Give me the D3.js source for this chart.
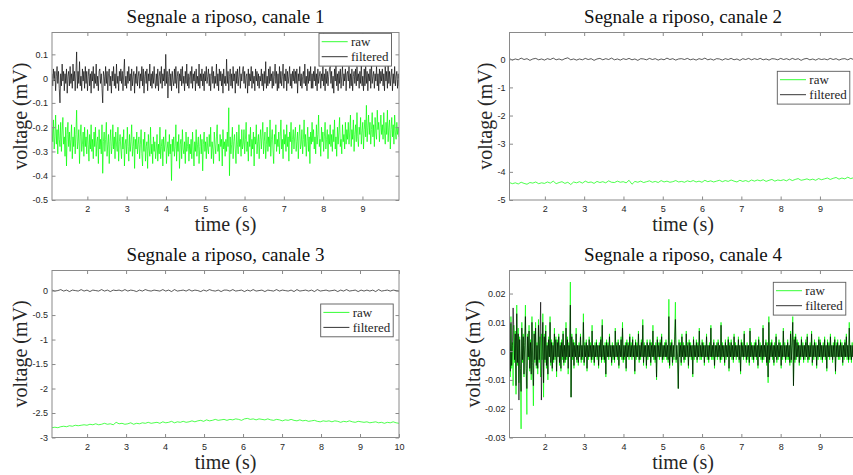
<!DOCTYPE html>
<html>
<head>
<meta charset="utf-8">
<script src="https://cdn.jsdelivr.net/npm/d3@7"></script>
<style>
  html, body { margin: 0; padding: 0; background: #fff; }
  svg { display: block; }
  .serif { font-family: "Liberation Serif", "DejaVu Serif", "Noto Serif", "Times New Roman", Times, serif; }
  .sans { font-family: "Liberation Sans", Arial, Helvetica, sans-serif; }
</style>
</head>
<body>
<svg id="chart" width="853" height="475"></svg>
<script>
// ---- Recorded resting signals (mV), evenly sampled over each time span (s) ----

const ch1Span = [1.1, 9.93];
const ch1Raw = [
  -0.20,-0.26,-0.17,-0.29,-0.24,-0.15,-0.27,-0.21,-0.31,-0.19,-0.25,-0.28,-0.18,-0.30,-0.22,-0.16,-0.27,-0.24,-0.32,-0.20,-0.36,-0.23,-0.18,-0.28,
  -0.22,-0.30,-0.25,-0.19,-0.33,-0.24,-0.28,-0.20,-0.31,-0.23,-0.13,-0.29,-0.26,-0.21,-0.35,-0.24,-0.19,-0.30,-0.27,-0.22,-0.32,-0.20,-0.28,-0.24,
  -0.31,-0.21,-0.27,-0.34,-0.23,-0.29,-0.19,-0.30,-0.25,-0.33,-0.22,-0.28,-0.20,-0.32,-0.26,-0.24,-0.35,-0.21,-0.29,-0.25,-0.31,-0.19,-0.39,-0.26,
  -0.22,-0.30,-0.25,-0.18,-0.32,-0.27,-0.23,-0.35,-0.26,-0.21,-0.31,-0.28,-0.19,-0.29,-0.24,-0.33,-0.22,-0.27,-0.30,-0.20,-0.34,-0.26,-0.23,-0.29,
  -0.33,-0.24,-0.29,-0.21,-0.36,-0.27,-0.25,-0.31,-0.20,-0.28,-0.34,-0.23,-0.30,-0.26,-0.19,-0.32,-0.28,-0.24,-0.37,-0.25,-0.29,-0.22,-0.31,-0.27,
  -0.24,-0.33,-0.27,-0.21,-0.31,-0.36,-0.25,-0.30,-0.22,-0.34,-0.28,-0.26,-0.37,-0.23,-0.29,-0.32,-0.20,-0.31,-0.27,-0.35,-0.24,-0.30,-0.26,-0.33,
  -0.29,-0.23,-0.34,-0.27,-0.31,-0.20,-0.33,-0.28,-0.25,-0.36,-0.24,-0.30,-0.27,-0.21,-0.35,-0.29,-0.26,-0.32,-0.23,-0.31,-0.27,-0.42,-0.25,-0.30,
  -0.24,-0.32,-0.28,-0.19,-0.34,-0.26,-0.30,-0.23,-0.37,-0.27,-0.25,-0.33,-0.21,-0.29,-0.31,-0.26,-0.35,-0.22,-0.30,-0.28,-0.24,-0.34,-0.27,-0.31,
  -0.25,-0.33,-0.22,-0.29,-0.36,-0.26,-0.30,-0.21,-0.32,-0.27,-0.24,-0.35,-0.28,-0.23,-0.31,-0.25,-0.38,-0.27,-0.22,-0.30,-0.26,-0.33,-0.24,-0.29,
  -0.31,-0.23,-0.28,-0.20,-0.33,-0.26,-0.29,-0.35,-0.22,-0.27,-0.31,-0.24,-0.19,-0.30,-0.27,-0.34,-0.23,-0.28,-0.25,-0.36,-0.21,-0.29,-0.26,-0.32,
  -0.25,-0.30,-0.22,-0.28,-0.12,-0.40,-0.24,-0.31,-0.27,-0.20,-0.33,-0.26,-0.23,-0.29,-0.35,-0.22,-0.27,-0.31,-0.19,-0.28,-0.25,-0.32,-0.21,-0.29,
  -0.27,-0.21,-0.31,-0.25,-0.18,-0.30,-0.26,-0.34,-0.23,-0.28,-0.20,-0.32,-0.25,-0.29,-0.22,-0.36,-0.24,-0.27,-0.19,-0.31,-0.26,-0.23,-0.33,-0.25,
  -0.21,-0.29,-0.24,-0.18,-0.31,-0.26,-0.22,-0.33,-0.27,-0.20,-0.30,-0.24,-0.28,-0.17,-0.32,-0.25,-0.21,-0.29,-0.35,-0.23,-0.27,-0.19,-0.30,-0.25,
  -0.28,-0.22,-0.31,-0.24,-0.17,-0.29,-0.25,-0.33,-0.21,-0.27,-0.23,-0.30,-0.19,-0.28,-0.24,-0.34,-0.22,-0.26,-0.18,-0.31,-0.25,-0.21,-0.29,-0.24,
  -0.20,-0.30,-0.26,-0.22,-0.33,-0.24,-0.19,-0.29,-0.27,-0.21,-0.31,-0.25,-0.17,-0.28,-0.23,-0.32,-0.26,-0.20,-0.30,-0.24,-0.35,-0.22,-0.27,-0.18,
  -0.26,-0.21,-0.29,-0.24,-0.31,-0.19,-0.27,-0.23,-0.15,-0.28,-0.25,-0.32,-0.20,-0.26,-0.22,-0.30,-0.24,-0.18,-0.29,-0.25,-0.21,-0.33,-0.23,-0.27,
  -0.19,-0.28,-0.23,-0.30,-0.21,-0.26,-0.17,-0.29,-0.24,-0.32,-0.20,-0.27,-0.22,-0.16,-0.28,-0.25,-0.31,-0.19,-0.26,-0.23,-0.29,-0.18,-0.27,-0.21,
  -0.25,-0.18,-0.27,-0.22,-0.15,-0.28,-0.21,-0.25,-0.17,-0.30,-0.23,-0.19,-0.26,-0.14,-0.24,-0.28,-0.20,-0.23,-0.16,-0.27,-0.22,-0.18,-0.29,-0.21,
  -0.17,-0.24,-0.11,-0.26,-0.20,-0.15,-0.23,-0.18,-0.27,-0.21,-0.14,-0.24,-0.19,-0.28,-0.16,-0.22,-0.25,-0.13,-0.21,-0.18,-0.26,-0.20,-0.15,-0.23,
  -0.19,-0.25,-0.14,-0.22,-0.27,-0.18,-0.23,-0.13,-0.26,-0.20,-0.17,-0.29,-0.21,-0.16,-0.24,-0.19,-0.27,-0.15,-0.22,-0.25,-0.18,-0.23,-0.20,-0.24
];
const ch1Filtered = [
  0.02,-0.03,0.04,-0.01,0.03,-0.05,0.01,0.05,-0.02,0.03,-0.04,-0.10,0.02,-0.03,0.06,-0.01,0.03,-0.05,0.02,-0.02,0.04,-0.06,0.01,0.03,
  -0.03,0.05,-0.02,0.02,-0.04,0.06,-0.01,0.03,-0.05,0.02,0.11,-0.04,0.03,-0.02,0.07,-0.03,0.01,-0.05,0.04,-0.01,0.03,-0.04,0.05,-0.02,
  0.03,-0.05,0.01,0.04,-0.03,0.02,-0.06,0.03,-0.01,0.05,-0.04,0.02,-0.02,0.06,-0.03,0.01,-0.05,0.03,0.04,-0.02,0.02,-0.04,-0.10,0.03,
  0.01,-0.03,0.05,-0.02,0.03,-0.05,0.02,0.04,-0.03,0.01,-0.06,0.03,-0.01,0.05,-0.03,0.02,-0.04,0.06,-0.02,0.01,-0.05,0.03,-0.01,0.04,
  -0.02,0.03,-0.05,0.02,0.08,-0.03,0.01,-0.04,0.03,-0.02,0.05,-0.01,0.02,-0.05,0.04,-0.03,0.01,0.03,-0.06,0.02,-0.02,0.05,-0.03,0.01,
  0.03,-0.04,0.02,-0.01,0.05,-0.03,0.04,-0.06,0.01,0.03,-0.02,0.04,-0.05,0.02,-0.01,0.06,-0.03,0.02,-0.04,0.03,-0.02,0.05,-0.01,-0.04,
  0.02,-0.03,0.04,-0.05,0.01,0.03,-0.02,0.05,-0.04,0.02,-0.01,0.04,-0.03,0.10,-0.02,0.03,-0.08,0.01,0.04,-0.03,0.02,-0.05,0.03,-0.01,
  -0.03,0.04,-0.02,0.05,-0.04,0.01,0.03,-0.06,0.02,-0.01,0.04,-0.03,0.05,-0.02,0.01,-0.05,0.03,-0.02,0.06,-0.03,0.02,-0.04,0.01,0.03,
  -0.02,0.05,-0.04,0.02,-0.01,0.03,-0.05,0.04,-0.02,0.01,-0.03,0.06,-0.04,0.02,-0.01,0.04,-0.03,0.02,-0.05,0.03,-0.01,0.05,-0.02,0.01,
  0.04,-0.03,0.02,-0.05,0.01,0.05,-0.02,0.03,-0.04,0.01,-0.02,0.06,-0.03,0.02,-0.05,0.04,-0.01,0.03,-0.03,0.02,-0.06,0.04,-0.02,0.01,
  -0.03,0.08,-0.02,0.03,-0.05,0.01,0.04,-0.03,0.02,-0.04,0.05,-0.01,0.02,-0.06,0.03,-0.02,0.04,-0.03,0.01,0.05,-0.04,0.02,-0.01,0.03,
  0.05,-0.02,0.03,-0.04,0.01,0.02,-0.06,0.04,-0.03,0.02,-0.01,0.05,-0.04,0.03,-0.02,0.01,-0.05,0.04,-0.01,0.03,-0.03,0.02,-0.04,0.01,
  -0.01,0.04,-0.03,0.02,-0.05,0.03,-0.02,0.07,-0.04,0.01,-0.03,0.04,-0.02,0.05,-0.01,0.02,-0.04,0.03,-0.03,0.01,0.06,-0.02,0.03,-0.05,
  0.02,-0.04,0.05,-0.02,0.03,-0.03,0.01,0.06,-0.04,0.02,-0.01,0.04,-0.05,0.03,-0.02,0.01,0.05,-0.03,0.02,-0.04,0.03,-0.01,0.04,-0.02,
  0.03,-0.02,0.04,-0.06,0.02,-0.01,0.05,-0.03,0.02,-0.04,0.01,0.03,-0.02,0.06,-0.03,0.01,-0.05,0.04,-0.02,0.03,-0.01,0.05,-0.04,0.02,
  -0.04,0.03,-0.01,0.05,-0.03,0.02,-0.05,0.04,-0.02,0.01,0.03,-0.04,0.02,-0.01,0.05,-0.03,0.02,-0.05,0.04,-0.02,0.03,-0.03,0.01,0.04,
  0.05,-0.02,0.03,-0.04,0.01,-0.06,0.04,-0.01,0.06,-0.03,0.02,-0.05,0.03,-0.02,0.04,-0.04,0.01,0.05,-0.03,0.02,-0.01,0.04,-0.05,0.02,
  0.03,-0.01,0.05,-0.04,0.02,-0.03,0.04,-0.05,0.01,0.03,-0.02,0.04,-0.03,0.05,-0.01,0.02,-0.04,0.03,-0.02,0.06,-0.03,0.01,-0.05,0.04,
  -0.03,0.05,-0.02,0.03,-0.05,0.02,-0.01,0.04,-0.04,0.06,-0.02,0.01,0.03,-0.04,0.02,-0.01,0.05,-0.03,0.02,-0.05,0.04,-0.02,0.03,-0.01,
  0.04,-0.03,0.02,-0.05,0.05,-0.01,0.03,-0.04,0.06,-0.02,0.03,-0.03,0.01,0.04,-0.05,0.02,-0.02,0.05,-0.03,0.01,0.03,-0.04,0.02,-0.03
];

const ch2Span = [1.1, 9.93];
const ch2Raw = [
  -4.38,-4.42,-4.39,-4.43,-4.37,-4.41,-4.44,-4.38,-4.40,-4.36,-4.42,-4.39,
  -4.41,-4.36,-4.40,-4.33,-4.42,-4.38,-4.35,-4.41,-4.37,-4.45,-4.36,-4.39,
  -4.35,-4.40,-4.33,-4.38,-4.36,-4.41,-4.34,-4.38,-4.35,-4.39,-4.32,-4.37,
  -4.38,-4.33,-4.37,-4.35,-4.39,-4.30,-4.44,-4.34,-4.37,-4.33,-4.38,-4.35,
  -4.32,-4.37,-4.34,-4.38,-4.31,-4.36,-4.33,-4.37,-4.35,-4.31,-4.36,-4.34,
  -4.37,-4.32,-4.35,-4.31,-4.36,-4.33,-4.37,-4.30,-4.35,-4.32,-4.36,-4.33,
  -4.30,-4.35,-4.31,-4.34,-4.29,-4.33,-4.36,-4.30,-4.34,-4.31,-4.35,-4.29,
  -4.33,-4.29,-4.32,-4.28,-4.34,-4.30,-4.27,-4.33,-4.29,-4.31,-4.28,-4.32,
  -4.26,-4.31,-4.27,-4.24,-4.30,-4.28,-4.25,-4.29,-4.26,-4.30,-4.24,-4.28,
  -4.25,-4.22,-4.27,-4.23,-4.20,-4.26,-4.22,-4.25,-4.19,-4.24,-4.21,-4.23
];
const ch2Filtered = [
  0.02,-0.03,0.01,-0.02,0.04,-0.01,0.02,-0.04,0.01,0.03,-0.02,0.01,
  -0.03,0.02,-0.01,0.04,-0.02,0.01,-0.03,0.02,0.05,-0.02,0.01,-0.03,
  0.01,-0.02,0.03,-0.01,0.02,-0.04,0.01,0.03,-0.02,0.02,-0.01,0.04,
  -0.02,0.01,-0.03,0.02,-0.01,0.03,-0.02,0.01,-0.04,0.02,0.01,-0.02,
  0.03,-0.01,0.02,-0.03,0.01,-0.02,0.04,-0.01,0.02,-0.03,0.01,0.02,
  -0.01,0.03,-0.02,0.01,-0.03,0.02,-0.01,0.04,-0.02,0.01,-0.03,0.02,
  0.01,-0.03,0.02,-0.01,0.03,-0.02,0.01,-0.04,0.02,-0.01,0.03,-0.02,
  0.02,-0.01,0.03,-0.02,0.01,-0.03,0.02,0.01,-0.02,0.03,-0.01,0.02,
  -0.02,0.03,-0.01,0.02,-0.04,0.01,0.03,-0.02,0.01,-0.03,0.02,-0.01,
  0.01,-0.02,0.03,-0.01,0.02,-0.03,0.01,0.02,-0.02,0.03,-0.01,0.01
];

const ch3Span = [1.1, 10];
const ch3Raw = [
  -2.80,-2.79,-2.80,-2.78,-2.77,-2.78,-2.76,-2.77,-2.75,-2.76,-2.75,-2.74,
  -2.75,-2.73,-2.74,-2.72,-2.74,-2.73,-2.71,-2.73,-2.72,-2.74,-2.69,-2.72,
  -2.71,-2.73,-2.72,-2.70,-2.73,-2.71,-2.72,-2.70,-2.71,-2.69,-2.71,-2.70,
  -2.69,-2.71,-2.68,-2.70,-2.69,-2.67,-2.70,-2.68,-2.69,-2.67,-2.69,-2.68,
  -2.66,-2.68,-2.66,-2.65,-2.67,-2.64,-2.66,-2.65,-2.63,-2.65,-2.64,-2.63,
  -2.65,-2.63,-2.64,-2.62,-2.63,-2.65,-2.62,-2.61,-2.63,-2.62,-2.64,-2.62,
  -2.63,-2.64,-2.62,-2.64,-2.65,-2.63,-2.64,-2.66,-2.64,-2.65,-2.63,-2.65,
  -2.66,-2.64,-2.66,-2.65,-2.67,-2.66,-2.65,-2.67,-2.68,-2.66,-2.67,-2.66,
  -2.68,-2.66,-2.67,-2.69,-2.67,-2.68,-2.66,-2.68,-2.69,-2.67,-2.68,-2.69,
  -2.68,-2.70,-2.69,-2.68,-2.70,-2.69,-2.71,-2.69,-2.70,-2.68,-2.70,-2.71
];
const ch3Filtered = [
  0.01,-0.01,0.00,0.02,-0.01,0.01,-0.02,0.01,0.00,-0.01,0.02,-0.01,
  0.01,-0.02,0.01,0.00,-0.01,0.02,-0.01,0.01,-0.02,0.01,0.00,0.01,
  -0.01,0.02,-0.01,0.01,0.00,-0.02,0.01,-0.01,0.02,0.00,-0.01,0.01,
  0.00,-0.01,0.02,-0.01,0.01,-0.02,0.02,-0.01,0.00,0.01,-0.01,0.02,
  -0.01,0.01,0.00,-0.02,0.01,-0.01,0.02,0.00,-0.01,0.01,-0.02,0.01,
  0.01,-0.01,0.02,-0.01,0.00,0.01,-0.02,0.01,-0.01,0.02,-0.01,0.00,
  0.01,-0.02,0.01,0.00,-0.01,0.02,-0.01,0.01,0.00,-0.01,0.01,-0.02,
  0.02,-0.01,0.00,0.01,-0.01,0.01,-0.02,0.02,-0.01,0.00,0.01,-0.01,
  0.00,0.01,-0.02,0.01,-0.01,0.02,-0.01,0.00,0.01,-0.02,0.01,-0.01,
  0.01,-0.01,0.01,-0.02,0.02,-0.01,0.00,0.01,-0.01,0.01,0.00,-0.01
];

const ch4Span = [1.1, 9.93];
const ch4Raw = [
  0.004,-0.009,0.012,-0.006,0.003,-0.012,0.009,-0.004,0.007,-0.015,0.016,-0.005,0.008,-0.011,0.005,-0.007,-0.027,0.010,-0.004,0.006,-0.009,0.003,0.016,-0.008,
  -0.022,0.006,-0.003,0.009,-0.007,0.004,-0.010,0.012,-0.005,-0.019,0.007,-0.004,0.010,-0.006,0.003,-0.008,0.011,-0.004,0.005,-0.009,0.006,-0.003,0.013,-0.016,
  0.006,-0.004,0.009,-0.006,0.003,-0.010,0.005,-0.002,0.012,-0.005,0.004,-0.007,0.003,-0.004,0.008,-0.003,0.005,-0.009,0.004,-0.002,0.006,-0.005,0.003,-0.007,
  0.004,-0.003,0.007,-0.005,0.002,-0.004,0.010,-0.003,0.005,-0.008,0.003,-0.002,0.024,-0.016,0.006,-0.003,0.004,-0.006,0.003,-0.002,0.008,-0.004,0.002,-0.005,
  0.003,-0.002,0.006,-0.004,0.002,-0.003,0.013,-0.005,0.003,-0.002,0.004,-0.007,0.002,-0.003,0.005,-0.002,0.003,-0.004,0.009,-0.003,0.002,-0.005,0.003,-0.002,
  0.004,-0.003,0.002,-0.006,0.003,-0.002,0.005,-0.004,0.011,-0.003,0.002,-0.004,0.003,-0.009,0.004,-0.002,0.003,-0.003,0.006,-0.002,0.002,-0.005,0.003,-0.003,
  0.002,-0.004,0.008,-0.002,0.003,-0.003,0.004,-0.006,0.002,-0.002,0.005,-0.003,0.010,-0.004,0.002,-0.003,0.003,-0.007,0.004,-0.002,0.003,-0.003,0.006,-0.002,
  0.003,-0.003,0.005,-0.002,0.002,-0.008,0.004,-0.003,0.003,-0.002,0.007,-0.004,0.002,-0.003,0.004,-0.002,0.011,-0.005,0.003,-0.002,0.002,-0.006,0.004,-0.003,
  0.002,-0.002,0.004,-0.005,0.003,-0.002,0.009,-0.003,0.002,-0.004,0.003,-0.010,0.005,-0.002,0.003,-0.003,0.004,-0.002,0.006,-0.004,0.002,-0.003,0.003,-0.002,
  0.004,-0.003,0.002,-0.004,0.018,-0.006,0.003,-0.002,0.004,-0.005,0.002,-0.003,0.005,0.017,-0.004,0.002,-0.003,-0.013,0.004,-0.002,0.003,-0.005,0.006,-0.002,
  0.003,-0.004,0.002,-0.003,0.007,-0.002,0.003,-0.006,0.004,-0.002,0.003,-0.003,0.002,-0.009,0.005,-0.003,0.002,-0.002,0.004,-0.004,0.003,-0.002,0.008,-0.003,
  0.002,-0.003,0.004,-0.002,0.003,-0.005,0.002,-0.002,0.006,-0.003,0.002,-0.004,0.003,-0.002,0.009,-0.003,0.002,-0.003,0.004,-0.006,0.002,-0.002,0.003,-0.003,
  0.004,-0.002,0.002,-0.004,0.010,-0.003,0.003,-0.002,0.002,-0.005,0.004,-0.003,0.002,-0.002,0.005,-0.007,0.003,-0.002,0.004,-0.003,0.002,-0.004,0.006,-0.002,
  0.003,-0.003,0.002,-0.002,0.005,-0.004,0.002,-0.008,0.004,-0.002,0.003,-0.003,0.007,-0.002,0.002,-0.004,0.003,-0.003,0.002,-0.005,0.008,-0.002,0.003,-0.003,
  0.002,-0.004,0.003,-0.002,0.004,-0.003,0.002,-0.006,0.005,-0.002,0.003,-0.003,0.002,-0.004,0.009,-0.003,0.002,-0.002,0.004,-0.005,0.003,-0.011,0.012,-0.004,
  0.003,-0.002,0.004,-0.003,0.002,-0.005,0.003,-0.002,0.006,-0.004,0.002,-0.003,0.004,-0.002,0.003,-0.006,0.002,-0.003,0.008,-0.002,0.003,-0.004,0.002,-0.003,
  0.004,-0.003,0.002,-0.005,0.007,-0.004,0.003,0.012,-0.012,0.005,-0.004,0.006,-0.003,0.004,-0.002,0.003,-0.005,0.002,-0.003,0.005,-0.002,0.003,-0.004,0.002,
  -0.003,0.004,-0.002,0.006,-0.004,0.002,-0.003,0.003,-0.002,0.007,-0.005,0.002,-0.003,0.004,-0.002,0.003,-0.006,0.002,-0.003,0.005,-0.002,0.004,-0.003,0.002,
  -0.004,0.003,-0.002,0.005,-0.003,0.002,-0.007,0.004,-0.002,0.003,-0.003,0.006,-0.002,0.002,-0.004,0.003,-0.002,0.005,-0.008,0.003,-0.002,0.004,-0.003,0.002,
  -0.003,0.004,-0.002,0.003,-0.005,0.002,-0.003,0.004,-0.002,0.006,-0.003,0.002,-0.004,0.010,-0.003,0.002,-0.004,0.003,-0.002,0.005,-0.003,0.002,-0.004,0.003
];
const ch4Filtered = [
  0.003,-0.007,0.010,-0.005,0.002,0.015,0.007,-0.003,0.006,-0.012,0.013,-0.004,0.006,-0.017,0.004,-0.006,-0.014,0.008,-0.003,0.005,-0.008,0.002,0.012,-0.006,
  -0.013,0.005,-0.002,0.007,-0.006,0.003,-0.008,0.010,-0.004,-0.012,0.006,-0.003,0.008,-0.005,0.002,-0.006,0.009,-0.003,0.004,0.017,-0.017,-0.002,0.010,-0.011,
  0.005,-0.003,0.007,-0.005,0.002,-0.008,0.004,-0.002,0.010,-0.004,0.003,-0.006,0.002,-0.003,0.006,-0.002,0.004,-0.007,0.003,-0.002,0.005,-0.004,0.002,-0.006,
  0.003,-0.002,0.006,-0.004,0.002,-0.003,0.008,-0.002,0.004,-0.006,0.002,-0.002,0.016,-0.016,0.005,-0.002,0.003,-0.005,0.002,-0.002,0.006,-0.003,0.002,-0.004,
  0.002,-0.002,0.005,-0.003,0.002,-0.002,0.010,-0.004,0.002,-0.002,0.003,-0.006,0.002,-0.002,0.004,-0.002,0.002,-0.003,0.007,-0.002,0.002,-0.004,0.002,-0.002,
  0.003,-0.002,0.002,-0.005,0.002,-0.002,0.004,-0.003,0.009,-0.002,0.002,-0.003,0.002,-0.008,0.003,-0.002,0.002,-0.002,0.005,-0.002,0.002,-0.004,0.002,-0.002,
  0.002,-0.003,0.007,-0.002,0.002,-0.002,0.003,-0.005,0.002,-0.002,0.004,-0.002,0.008,-0.003,0.002,-0.002,0.002,-0.006,0.003,-0.002,0.002,-0.002,0.005,-0.002,
  0.002,-0.002,0.004,-0.002,0.002,-0.007,0.003,-0.002,0.002,-0.002,0.006,-0.003,0.002,-0.002,0.003,-0.002,0.009,-0.004,0.002,-0.002,0.002,-0.005,0.003,-0.002,
  0.002,-0.002,0.003,-0.004,0.002,-0.002,0.007,-0.002,0.002,-0.003,0.002,-0.009,0.004,-0.002,0.002,-0.002,0.003,-0.002,0.005,-0.003,0.002,-0.002,0.002,-0.002,
  0.003,-0.002,0.002,-0.003,0.012,-0.005,0.002,-0.002,0.003,-0.004,0.002,-0.002,0.004,0.011,-0.003,0.002,-0.002,-0.013,0.003,-0.002,0.002,-0.004,0.005,-0.002,
  0.002,-0.003,0.002,-0.002,0.006,-0.002,0.002,-0.005,0.003,-0.002,0.002,-0.002,0.002,-0.008,0.004,-0.002,0.002,-0.002,0.003,-0.003,0.002,-0.002,0.007,-0.002,
  0.002,-0.002,0.003,-0.002,0.002,-0.004,0.002,-0.002,0.005,-0.002,0.002,-0.003,0.002,-0.002,0.008,-0.002,0.002,-0.002,0.003,-0.005,0.002,-0.002,0.002,-0.002,
  0.003,-0.002,0.002,-0.003,0.009,-0.002,0.002,-0.002,0.002,-0.004,0.003,-0.002,0.002,-0.002,0.004,-0.006,0.002,-0.002,0.003,-0.002,0.002,-0.003,0.005,-0.002,
  0.002,-0.002,0.002,-0.002,0.004,-0.003,0.002,-0.007,0.003,-0.002,0.002,-0.002,0.006,-0.002,0.002,-0.003,0.002,-0.002,0.002,-0.004,0.007,-0.002,0.002,-0.002,
  0.002,-0.003,0.002,-0.002,0.003,-0.002,0.002,-0.005,0.004,-0.002,0.002,-0.002,0.002,-0.003,0.008,-0.002,0.002,-0.002,0.003,-0.004,0.002,-0.009,0.010,-0.003,
  0.002,-0.002,0.003,-0.002,0.002,-0.004,0.002,-0.002,0.005,-0.003,0.002,-0.002,0.003,-0.002,0.002,-0.005,0.002,-0.002,0.007,-0.002,0.002,-0.003,0.002,-0.002,
  0.003,-0.002,0.002,-0.004,0.006,-0.003,0.002,0.010,-0.012,0.004,-0.003,0.005,-0.002,0.003,-0.002,0.002,-0.004,0.002,-0.002,0.004,-0.002,0.002,-0.003,0.002,
  -0.002,0.003,-0.002,0.005,-0.003,0.002,-0.002,0.002,-0.002,0.006,-0.004,0.002,-0.002,0.003,-0.002,0.002,-0.005,0.002,-0.002,0.004,-0.002,0.003,-0.002,0.002,
  -0.003,0.002,-0.002,0.004,-0.002,0.002,-0.006,0.003,-0.002,0.002,-0.002,0.005,-0.002,0.002,-0.003,0.002,-0.002,0.004,-0.007,0.002,-0.002,0.003,-0.002,0.002,
  -0.002,0.003,-0.002,0.002,-0.004,0.002,-0.002,0.003,-0.002,0.005,-0.002,0.002,-0.003,0.008,-0.002,0.002,-0.003,0.002,-0.002,0.004,-0.002,0.002,-0.003,0.002
];

// ---- Axis ticks ----
const timeTicks = [2, 3, 4, 5, 6, 7, 8, 9];
const timeTicksTo10 = [2, 3, 4, 5, 6, 7, 8, 9, 10];
const ch1VoltTicks = [0.1, 0, -0.1, -0.2, -0.3, -0.4, -0.5];
const ch2VoltTicks = [0, -1, -2, -3, -4, -5];
const ch3VoltTicks = [0, -0.5, -1, -1.5, -2, -2.5, -3];
const ch4VoltTicks = [0.02, 0.01, 0, -0.01, -0.02, -0.03];

const titles = ["Segnale a riposo, canale 1", "Segnale a riposo, canale 2",
                "Segnale a riposo, canale 3", "Segnale a riposo, canale 4"];
const seriesNames = ["raw", "filtered"];
const xLabel = "time (s)";
const yLabel = "voltage (mV)";

// ---- Panel layout ----
const panels = [
  { title: titles[0], span: ch1Span, raw: ch1Raw, filt: ch1Filtered,
    yDomain: [-0.5, 0.19], xDomain: [1.1, 9.93], xTicks: timeTicks, yTicks: ch1VoltTicks,
    box: { l: 52, r: 399, t: 32.5, b: 200 }, legend: { x: 319, y: 33.3 } },
  { title: titles[1], span: ch2Span, raw: ch2Raw, filt: ch2Filtered,
    yDomain: [-5, 0.95], xDomain: [1.1, 9.93], xTicks: timeTicks, yTicks: ch2VoltTicks,
    box: { l: 509.5, r: 856.5, t: 32.5, b: 200 }, legend: { x: 777.3, y: 71.3 } },
  { title: titles[2], span: ch3Span, raw: ch3Raw, filt: ch3Filtered,
    yDomain: [-3, 0.41], xDomain: [1.1, 10], xTicks: timeTicksTo10, yTicks: ch3VoltTicks,
    box: { l: 52, r: 399, t: 270.5, b: 437.5 }, legend: { x: 320.7, y: 304 } },
  { title: titles[3], span: ch4Span, raw: ch4Raw, filt: ch4Filtered,
    yDomain: [-0.03, 0.028], xDomain: [1.1, 9.93], xTicks: timeTicks, yTicks: ch4VoltTicks,
    box: { l: 509.5, r: 856.5, t: 270.5, b: 437.5 }, legend: { x: 773.3, y: 282.3 } }
];

const RAW_COLOR = "#00ff00";
const FILT_COLOR = "#000000";
const AXIS_COLOR = "#8a8a8a";
const TEXT_COLOR = "#262626";
const TICK_LEN = 3.5;

const svg = d3.select("#chart");
svg.append("rect").attr("width", 853).attr("height", 475).attr("fill", "#fff");

panels.forEach((p, idx) => {
  const { l, r, t, b } = p.box;
  const x = d3.scaleLinear().domain(p.xDomain).range([l, r]);
  const y = d3.scaleLinear().domain(p.yDomain).range([b, t]);

  const g = svg.append("g");
  const clipId = "clip" + idx;
  g.append("clipPath").attr("id", clipId)
    .append("rect").attr("x", l).attr("y", t).attr("width", r - l).attr("height", b - t);

  // sample times, evenly spaced across the recording span
  const timeOf = (n) => d3.scaleLinear().domain([0, n - 1]).range(p.span);

  const drawSeries = (vals, color, width) => {
    const tt = timeOf(vals.length);
    const line = d3.line().x((d, i) => x(tt(i))).y(d => y(d));
    g.append("path")
      .attr("clip-path", `url(#${clipId})`)
      .attr("d", line(vals))
      .attr("fill", "none")
      .attr("stroke", color)
      .attr("stroke-width", width)
      .attr("stroke-linejoin", "round");
  };
  drawSeries(p.raw, RAW_COLOR, 0.7);
  drawSeries(p.filt, FILT_COLOR, 0.65);

  // axes: labelled bottom/left, tick-only top/right, ticks pointing inward
  const fmt = d => String(d);
  const xb = g.append("g").attr("transform", `translate(0,${b})`)
    .call(d3.axisBottom(x).tickValues(p.xTicks).tickFormat(fmt)
      .tickSizeInner(-TICK_LEN).tickSizeOuter(0).tickPadding(6));
  const xt = g.append("g").attr("transform", `translate(0,${t})`)
    .call(d3.axisTop(x).tickValues(p.xTicks).tickFormat("")
      .tickSizeInner(-TICK_LEN).tickSizeOuter(0));
  const yl = g.append("g").attr("transform", `translate(${l},0)`)
    .call(d3.axisLeft(y).tickValues(p.yTicks).tickFormat(fmt)
      .tickSizeInner(-TICK_LEN).tickSizeOuter(0).tickPadding(4));
  const yr = g.append("g").attr("transform", `translate(${r},0)`)
    .call(d3.axisRight(y).tickValues(p.yTicks).tickFormat("")
      .tickSizeInner(-TICK_LEN).tickSizeOuter(0));
  [xb, xt, yl, yr].forEach(a => {
    a.attr("font-family", null).attr("font-size", null);
    a.select(".domain").remove();
    a.selectAll(".tick line").attr("stroke", AXIS_COLOR).attr("stroke-width", 1);
    a.selectAll(".tick text").attr("fill", TEXT_COLOR)
      .attr("class", "sans").style("font-size", "9px");
  });

  // frame
  g.append("rect").attr("x", l).attr("y", t).attr("width", r - l).attr("height", b - t)
    .attr("fill", "none").attr("stroke", AXIS_COLOR).attr("stroke-width", 1);

  // title
  g.append("text").attr("class", "serif")
    .attr("x", (l + r) / 2).attr("y", t - 9.2)
    .attr("text-anchor", "middle").attr("fill", "#111")
    .style("font-size", "19px")
    .text(p.title);

  // x label
  g.append("text").attr("class", "serif")
    .attr("x", (l + r) / 2).attr("y", b + 31)
    .attr("text-anchor", "middle").attr("fill", TEXT_COLOR)
    .style("font-size", "20px")
    .text(xLabel);

  // y label, placed just left of the widest tick label
  const tickBox = yl.node().getBBox();
  const ylx = l + tickBox.x - 5;
  g.append("text").attr("class", "serif")
    .attr("transform", `translate(${ylx},${(t + b) / 2}) rotate(-90)`)
    .attr("text-anchor", "middle").attr("fill", TEXT_COLOR)
    .style("font-size", "20px")
    .text(yLabel);

  // legend
  const lg = g.append("g").attr("transform", `translate(${p.legend.x},${p.legend.y})`);
  lg.append("rect").attr("width", 72.5).attr("height", 32.8)
    .attr("fill", "#fff").attr("stroke", "#5a5a5a").attr("stroke-width", 0.9);
  [RAW_COLOR, FILT_COLOR].forEach((c, i) => {
    const ry = 8.4 + i * 15;
    lg.append("line").attr("x1", 2.7).attr("x2", 28.7).attr("y1", ry).attr("y2", ry)
      .attr("stroke", c).attr("stroke-width", 0.8);
    lg.append("text").attr("class", "serif")
      .attr("x", 32).attr("y", ry).attr("dy", "0.33em")
      .attr("fill", TEXT_COLOR)
      .style("font-size", "13px")
      .text(seriesNames[i]);
  });
});
</script>
</body>
</html>
